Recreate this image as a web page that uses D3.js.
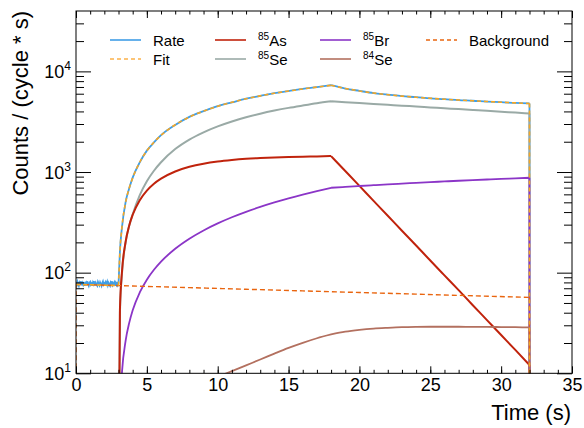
<!DOCTYPE html>
<html><head><meta charset="utf-8">
<script src="https://cdn.jsdelivr.net/npm/d3@7"></script>
<style>
body{margin:0;background:#fff}
svg{display:block;font-family:"Liberation Sans",Arial,Helvetica,sans-serif}
</style>
</head><body>
<svg id="c" width="584" height="428"></svg>
<script>
// ---------- data ----------
const xTickLabels = [0, 5, 10, 15, 20, 25, 30, 35];
const yDecades = [10, 100, 1000, 10000];
const yExponents = ["1", "2", "3", "4"];

// times for the fitted components (s)
const compTime = [3.0, 3.1, 3.25, 3.5, 3.75, 4, 4.5, 5, 5.5, 6, 7, 8, 9, 10, 11, 12, 13, 14, 15, 16, 17, 18,
  19, 20, 21, 22, 23, 24, 25, 26, 27, 28, 29, 30, 31, 32];
const as85 = [0, 43, 105, 202, 293, 376, 525, 654, 766, 860, 1013, 1127, 1211, 1273, 1318, 1353, 1378, 1396, 1410, 1421, 1430, 1440,
  1024, 728, 517, 368, 261, 186, 132, 94, 67, 47.5, 33.8, 24.0, 17.1, 12.1];
const se85 = [0, 40, 100, 200, 290, 380, 590, 810, 1030, 1250, 1690, 2100, 2480, 2840, 3180, 3500, 3800, 4080, 4340, 4580, 4820, 5040,
  4941, 4844, 4749, 4656, 4565, 4475, 4388, 4302, 4217, 4135, 4054, 3974, 3896, 3820];
const br85 = [0, 4.2, 10.5, 21, 31.5, 42.3, 63.7, 85.2, 106.8, 128.7, 172.8, 217.5, 262.8, 308.7, 355.2, 402.3, 450, 498.3, 547.2, 596.7, 646.8, 697.5,
  712, 726, 740, 754, 767, 780, 793, 806, 819, 831, 843, 855, 866, 877];
const se84 = [0, 0.25, 0.6, 1.2, 1.7, 2.2, 3.0, 3.8, 4.4, 5.0, 6.0, 7.0, 8.0, 9.2, 10.5, 12.0, 13.7, 15.7, 17.9, 20.1, 22.3, 24.3,
  25.9, 27.0, 27.8, 28.3, 28.7, 28.9, 29.0, 29.0, 29.0, 28.9, 28.9, 28.8, 28.7, 28.6];

// background (straight line on log axis)
const bgTime = [0, 4, 8, 12, 16, 20, 24, 28, 32];
const bgValue = [76.5, 73.7, 71.0, 68.4, 65.9, 63.5, 61.2, 58.9, 56.8];

// total fit
const fitTime = [0, 1.5, 3.0, 3.1, 3.25, 3.5, 3.75, 4, 4.5, 5, 5.5, 6, 7, 8, 9, 10, 11, 12, 13, 14, 15, 16, 17, 18,
  19, 20, 21, 22, 23, 24, 25, 26, 27, 28, 29, 30, 31, 32];
const fitValue = [76.5, 75.4, 74.4, 161.5, 289.7, 497.5, 689, 873, 1254, 1624, 1978, 2314, 2952, 3521, 4031, 4501, 4933, 5336, 5710, 6057, 6382, 6684, 6985, 7267,
  6767, 6389, 6097, 5869, 5683, 5531, 5403, 5291, 5192, 5101, 5018, 4940, 4865, 4795];

// measured rate
const rateTime = [0, 0.05, 0.1, 0.15, 0.2, 0.25, 0.3, 0.35, 0.4, 0.45, 0.5, 0.55, 0.6, 0.65, 0.7, 0.75, 0.8, 0.85, 0.9, 0.95,
  1.0, 1.05, 1.1, 1.15, 1.2, 1.25, 1.3, 1.35, 1.4, 1.45, 1.5, 1.55, 1.6, 1.65, 1.7, 1.75, 1.8, 1.85, 1.9, 1.95,
  2.0, 2.05, 2.1, 2.15, 2.2, 2.25, 2.3, 2.35, 2.4, 2.45, 2.5, 2.55, 2.6, 2.65, 2.7, 2.75, 2.8, 2.85, 2.9, 2.95, 3.0,
  3.1, 3.25, 3.5, 3.75, 4, 4.5, 5, 5.5, 6, 7, 8, 9, 10, 11, 12, 13, 14, 15, 16, 17, 18,
  19, 20, 21, 22, 23, 24, 25, 26, 27, 28, 29, 30, 31, 32];
const rateValue = [79, 75, 81, 77, 74, 80, 78, 82, 75, 79, 76, 81, 74, 78, 80, 75, 82, 77, 74, 79,
  81, 76, 78, 74, 80, 77, 82, 75, 79, 76, 74, 81, 78, 75, 80, 77, 74, 79, 82, 76,
  78, 74, 80, 77, 81, 75, 79, 76, 74, 80, 78, 82, 75, 77, 80, 74, 79, 76, 81, 75, 77,
  163, 287, 502, 684, 879, 1248, 1632, 1969, 2325, 2940, 3535, 4020, 4515, 4920, 5350, 5695, 6070, 6370, 6700, 6970, 7290,
  6750, 6400, 6085, 5880, 5670, 5545, 5390, 5300, 5180, 5110, 5005, 4950, 4855, 4800];

const breaks = [3, 18]; // beam on / beam off: slope changes abruptly here

// ---------- chart ----------
const svg = d3.select("#c");
const L = 76, R = 572, T = 11, B = 373.3;
const x = d3.scaleLinear().domain([0, 35]).range([L, R]);
const y = d3.scaleLog().domain([10, Math.pow(10, 4.6)]).range([B, T]);
const yv = v => y(v > 0.5 ? v : 0.5);

svg.append("defs").append("clipPath").attr("id", "clip")
  .append("rect").attr("x", L).attr("y", T).attr("width", R - L).attr("height", B - T);

const plot = svg.append("g").attr("clip-path", "url(#clip)");
const smooth = d3.line().x(d => x(d[0])).y(d => yv(d[1])).curve(d3.curveMonotoneX);
const seg = d3.line().x(d => x(d[0])).y(d => yv(d[1]));

function draw(ts, vs, color, width, dash, dropStart, linearBefore3) {
  const pts = ts.map((t, i) => [t, vs[i]]);
  const pieces = [];
  let cur = [];
  pts.forEach(p => {
    cur.push(p);
    if (breaks.includes(p[0])) { if (cur.length > 1) pieces.push(cur); cur = [p]; }
  });
  if (cur.length > 1) pieces.push(cur);
  let d = "";
  pieces.forEach(pc => {
    const gen = (linearBefore3 && pc[pc.length - 1][0] <= 3) ? seg : smooth;
    d += gen(pc);
  });
  const last = pts[pts.length - 1];
  d += seg([last, [last[0], 0]]);
  if (dropStart) d += seg([[pts[0][0], 0], pts[0]]);
  plot.append("path").attr("d", d).attr("fill", "none")
    .attr("stroke", color).attr("stroke-width", width).attr("stroke-dasharray", dash || null);
}

const C = {
  rate: "#3f9ee6", fit: "#f6a623", as: "#c0230c", se85: "#9aaaa6",
  br: "#8b35c7", se84: "#b3705f", bg: "#e9650f"
};

draw(rateTime, rateValue, C.rate, 1.8, null, false, true);
draw(compTime, se85, C.se85, 2, null, false);
draw(compTime, as85, C.as, 2, null, false);
draw(compTime, br85, C.br, 1.8, null, false);
draw(compTime, se84, C.se84, 1.8, null, false);
draw(bgTime, bgValue, C.bg, 1.4, "5,3", true);
draw(fitTime, fitValue, C.fit, 1.6, "4,3", false);

// ---------- axes ----------
const xMinor = d3.range(0, 36, 1);
const yMinor = [];
[10, 100, 1000, 10000].forEach(d => { for (let k = 2; k <= 9; k++) if (d * k <= Math.pow(10, 4.6)) yMinor.push(d * k); });

function axisG(axis) {
  const g = svg.append("g").call(axis);
  g.select(".domain").remove();
  g.selectAll("line").attr("stroke", "#000");
  return g;
}
// bottom
axisG(d3.axisBottom(x).tickValues(xMinor).tickSize(-3.5).tickFormat("")).attr("transform", `translate(0,${B})`);
const xb = axisG(d3.axisBottom(x).tickValues(xTickLabels).tickSize(-7).tickPadding(5).tickFormat(d3.format("d")))
  .attr("transform", `translate(0,${B})`);
xb.selectAll("text").attr("font-size", 18).attr("fill", "#000").attr("font-family", "Liberation Sans, Arial, sans-serif");
// top
axisG(d3.axisTop(x).tickValues(xMinor).tickSize(-3.5).tickFormat("")).attr("transform", `translate(0,${T})`);
axisG(d3.axisTop(x).tickValues(xTickLabels).tickSize(-7).tickFormat("")).attr("transform", `translate(0,${T})`);
// left
axisG(d3.axisLeft(y).tickValues(yMinor).tickSize(-8).tickFormat("")).attr("transform", `translate(${L},0)`);
axisG(d3.axisLeft(y).tickValues(yDecades).tickSize(-15).tickFormat("")).attr("transform", `translate(${L},0)`);
// right
axisG(d3.axisRight(y).tickValues(yMinor).tickSize(-8).tickFormat("")).attr("transform", `translate(${R},0)`);
axisG(d3.axisRight(y).tickValues(yDecades).tickSize(-15).tickFormat("")).attr("transform", `translate(${R},0)`);

// frame
svg.append("rect").attr("x", L).attr("y", T).attr("width", R - L).attr("height", B - T)
  .attr("fill", "none").attr("stroke", "#000").attr("stroke-width", 1);

// y tick labels 10^n
yDecades.forEach((d, i) => {
  const t = svg.append("text").attr("x", 71).attr("y", y(d) + 6.5)
    .attr("text-anchor", "end").attr("font-size", 18).attr("fill", "#000");
  t.append("tspan").text("10");
  t.append("tspan").attr("font-size", 12).attr("dy", -8).text(yExponents[i]);
});

// axis titles
svg.append("text").attr("x", 571).attr("y", 420).attr("text-anchor", "end")
  .attr("font-size", 22).attr("fill", "#000").text("Time (s)");
svg.append("text").attr("transform", `translate(28,${T}) rotate(-90)`).attr("text-anchor", "end")
  .attr("font-size", 22).attr("fill", "#000").text("Counts / (cycle * s)");

// ---------- legend ----------
const legend = [
  {sup: "", name: "Rate", color: C.rate, dash: null, col: 0, row: 0},
  {sup: "", name: "Fit", color: "#fbb14a", dash: "4,3", col: 0, row: 1},
  {sup: "85", name: "As", color: C.as, dash: null, col: 1, row: 0},
  {sup: "85", name: "Se", color: C.se85, dash: null, col: 1, row: 1},
  {sup: "85", name: "Br", color: C.br, dash: null, col: 2, row: 0},
  {sup: "84", name: "Se", color: C.se84, dash: null, col: 2, row: 1},
  {sup: "", name: "Background", color: C.bg, dash: "4,3", col: 3, row: 0}
];
const colX = [110, 215, 320, 426];
const rowY = [40, 59];
legend.forEach(e => {
  const lx = colX[e.col], ly = rowY[e.row];
  svg.append("line").attr("x1", lx).attr("x2", lx + 31).attr("y1", ly).attr("y2", ly)
    .attr("stroke", e.color).attr("stroke-width", 1.6).attr("stroke-dasharray", e.dash);
  const t = svg.append("text").attr("x", lx + 43).attr("y", ly + 6).attr("font-size", 15).attr("fill", "#000");
  if (e.sup) {
    t.append("tspan").attr("font-size", 10).attr("dy", -6).text(e.sup);
    t.append("tspan").attr("dy", 6).text(e.name);
  } else {
    t.append("tspan").text(e.name);
  }
});
</script>
</body></html>
